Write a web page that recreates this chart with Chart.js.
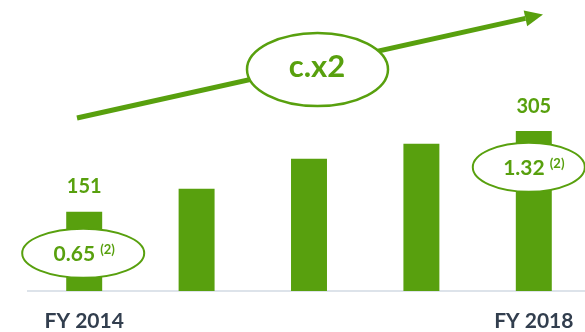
<!DOCTYPE html>
<html>
<head>
<meta charset="utf-8">
<script src="https://cdn.jsdelivr.net/npm/chart.js@4.4.1/dist/chart.umd.min.js"></script>
<style>
  html, body { margin: 0; padding: 0; background: #fff; overflow: hidden; }
  .wrap { width: 592px; height: 332px; }
</style>
</head>
<body>
<div class="wrap"><canvas id="growth-chart"></canvas></div>
<script>
  // data
  const years = ["FY 2014", "FY 2015", "FY 2016", "FY 2017", "FY 2018"];
  const tickLabels = ["FY 2014", "", "", "", "FY 2018"];
  const values = [151, 195, 252, 281, 305];
  const shownValues = ["151", "", "", "", "305"];
  const ratioLabels = ["0.65", "", "", "", "1.32"];
  const growthLabel = "c.x2";

  const green = "#58a00e";
  const dark = "#323e4e";

  const annotations = {
    id: "annotations",
    afterDatasetsDraw(chart) {
      const { ctx, scales: { x, y } } = chart;
      ctx.save();

      // value labels above first / last bar
      ctx.font = "700 20px Lato";
      ctx.fillStyle = green;
      ctx.textAlign = "center";
      ctx.textBaseline = "middle";
      values.forEach((v, i) => {
        if (!shownValues[i]) return;
        ctx.fillText(shownValues[i], x.getPixelForValue(i), y.getPixelForValue(v) - 25);
      });

      // ratio ellipses
      const ellipse = (cx, cy, rx, ry, lw) => {
        ctx.beginPath();
        ctx.ellipse(cx, cy, rx, ry, 0, 0, Math.PI * 2);
        ctx.fillStyle = "#fff";
        ctx.fill();
        ctx.lineWidth = lw;
        ctx.strokeStyle = green;
        ctx.stroke();
      };
      const withSup = (txt, sup, cx, cy) => {
        ctx.font = "700 21px Lato";
        const w1 = ctx.measureText(txt + " ").width;
        ctx.font = "700 13px Lato";
        const w2 = ctx.measureText(sup).width;
        const start = cx - (w1 + w2) / 2;
        ctx.fillStyle = green;
        ctx.textAlign = "left";
        ctx.textBaseline = "alphabetic";
        ctx.font = "700 21px Lato";
        ctx.fillText(txt, start, cy + 8);
        ctx.font = "700 13px Lato";
        ctx.fillText(sup, start + w1, cy + 1);
      };
      const e1 = { cx: x.getPixelForValue(0) - 1, cy: y.getPixelForValue(72) };
      ellipse(e1.cx, e1.cy, 61, 24.5, 2);
      withSup(ratioLabels[0], "(2)", x.getPixelForValue(0), e1.cy);
      const e2 = { cx: x.getPixelForValue(4) - 5, cy: y.getPixelForValue(236) };
      ellipse(e2.cx, e2.cy, 56, 24.5, 2);
      withSup(ratioLabels[4], "(2)", x.getPixelForValue(4), e2.cy);

      // growth arrow
      const x0 = 77, y0 = 118, tx = 543, ty = 14.5;
      const dx = tx - x0, dy = ty - y0, len = Math.hypot(dx, dy);
      const ux = dx / len, uy = dy / len, nx = -uy, ny = ux;
      const bx = tx - 18 * ux, by = ty - 18 * uy;
      ctx.beginPath();
      ctx.moveTo(x0, y0);
      ctx.lineTo(bx, by);
      ctx.lineWidth = 5;
      ctx.strokeStyle = green;
      ctx.stroke();
      ctx.beginPath();
      ctx.moveTo(tx, ty);
      ctx.lineTo(bx + 8 * nx, by + 8 * ny);
      ctx.lineTo(bx - 8 * nx, by - 8 * ny);
      ctx.closePath();
      ctx.fillStyle = green;
      ctx.fill();

      ellipse(317.5, 69.5, 70.5, 36.5, 2.5);
      ctx.font = "700 31px Lato";
      ctx.fillStyle = green;
      ctx.textAlign = "center";
      ctx.textBaseline = "middle";
      ctx.fillText(growthLabel, 317, 67);

      ctx.restore();
    },
  };

  const config = {
    type: "bar",
    data: {
      labels: years,
      datasets: [
        {
          data: values,
          backgroundColor: green,
          barPercentage: 0.32,
          categoryPercentage: 1,
        },
      ],
    },
    options: {
      responsive: true,
      maintainAspectRatio: false,
      animation: false,
      layout: { padding: { left: 28, right: 2, top: 0, bottom: 0 } },
      plugins: { legend: { display: false }, tooltip: { enabled: false } },
      scales: {
        x: {
          grid: { display: false, drawTicks: false },
          border: { display: true, color: "#dde3ea", width: 2 },
          ticks: {
            autoSkip: false,
            maxRotation: 0,
            padding: 18,
            color: dark,
            font: { family: "Lato", size: 21, weight: "700" },
            callback: (v, i) => tickLabels[i],
          },
          afterFit(scale) { scale.height = 41; },
        },
        y: { display: false, min: 0, max: 555 },
      },
    },
    plugins: [annotations],
  };

  new Chart(document.getElementById("growth-chart"), config);
</script>
</body>
</html>
